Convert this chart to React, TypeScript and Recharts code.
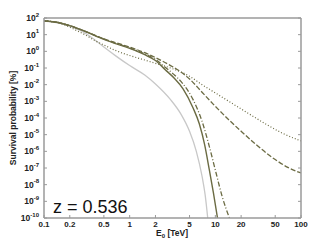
import { LineChart, Line, XAxis, YAxis } from "recharts";

// energy axis (TeV) and survival probability (%)
const xTicks = [0.1, 0.2, 0.5, 1, 2, 5, 10, 20, 50, 100];
const yTicks = [1e-10, 1e-9, 1e-8, 1e-7, 1e-6, 1e-5, 1e-4, 1e-3, 1e-2, 1e-1, 1, 10, 100];

const grayE = [0.1, 0.15, 0.2, 0.3, 0.4, 0.5, 0.7, 1, 1.5, 2, 3, 4, 5, 6, 7, 7.6, 8.15];
const grayP = [66, 50, 32, 12.6, 4.5, 1.8, 0.5, 0.14, 0.038, 0.011, 1.26e-3, 1.6e-4, 1.6e-5, 1e-6, 3.2e-8, 2.5e-9, 1e-10];

const dottedE = [0.1, 0.15, 0.2, 0.25, 0.3, 0.4, 0.5, 0.7, 1, 1.5, 2, 3, 5, 7, 10, 20, 40, 60, 100];
const dottedP = [71, 50, 28, 16, 10, 4.2, 2.4, 1.07, 0.56, 0.3, 0.19, 0.1, 0.032, 0.01, 3.2e-3, 3.5e-4, 4e-5, 1.26e-5, 4.2e-6];

const dashedE = [0.1, 0.15, 0.2, 0.3, 0.5, 0.7, 1, 1.5, 2, 3, 4, 5, 7, 10, 15, 20, 30, 50, 70, 100];
const dashedP = [66, 52, 35, 16, 5.6, 3.2, 1.8, 0.83, 0.42, 0.14, 0.056, 0.022, 3.5e-3, 5e-4, 6.3e-5, 1.6e-5, 2.5e-6, 3.2e-7, 1.1e-7, 5e-8];

const dashDotE = [0.1, 0.15, 0.2, 0.3, 0.5, 0.7, 1, 1.5, 2, 2.6, 3.3, 4.2, 5.5, 7.1, 8.5, 10.2, 12, 14.6];
const dashDotP = [66, 52, 35, 16, 5.5, 2.95, 1.6, 0.71, 0.33, 0.11, 0.04, 0.011, 1.26e-3, 5e-5, 2e-6, 5e-8, 2e-9, 1e-10];

const solidE = [0.1, 0.15, 0.2, 0.3, 0.5, 0.7, 1, 1.5, 2, 2.6, 3.3, 4.2, 5.5, 6.5, 7.5, 8.5, 9.5, 10.6];
const solidP = [66, 52, 35, 16, 5.2, 2.8, 1.5, 0.63, 0.28, 0.079, 0.025, 5.6e-3, 4e-4, 4.5e-5, 2.5e-6, 8e-8, 3.2e-9, 1e-10];

const toRows = (es: number[], ps: number[]) => es.map((e, i) => ({ e, p: ps[i] }));

const olive = "#6b6b43";
const axisColor = "#9a9a9a";
const font = "'Liberation Sans', Arial, sans-serif";

function BottomTick({ x, y, payload }: any) {
  return (
    <g>
      <line x1={x} y1={y} x2={x} y2={y - 3} stroke={axisColor} strokeWidth={1} />
      <text x={x} y={y + 8.5} textAnchor="middle" fontSize={8} fontWeight="bold" fontFamily={font} fill="#222">
        {payload.value}
      </text>
    </g>
  );
}

function TopTick({ x, y }: any) {
  return <line x1={x} y1={y} x2={x} y2={y + 3} stroke={axisColor} strokeWidth={1} />;
}

function LeftTick({ x, y, payload }: any) {
  const exp = Math.round(Math.log10(payload.value));
  return (
    <g>
      <line x1={x} y1={y} x2={x + 3} y2={y} stroke={axisColor} strokeWidth={1} />
      <text x={x - 5} y={y + 3} textAnchor="end" fontWeight="bold" fontFamily={font} fill="#222">
        <tspan fontSize={8.5}>10</tspan>
        <tspan fontSize={6} dy={-4.5}>{exp}</tspan>
      </text>
    </g>
  );
}

function RightTick({ x, y }: any) {
  return <line x1={x} y1={y} x2={x - 3} y2={y} stroke={axisColor} strokeWidth={1} />;
}

export default function App() {
  return (
    <div style={{ position: "absolute", left: 0, top: 0, width: 332, height: 246, background: "#fff" }}>
      <LineChart width={332} height={246} margin={{ top: 0, right: 0, bottom: 0, left: 0 }}>
        <XAxis
          dataKey="e"
          type="number"
          scale="log"
          domain={[0.1, 100]}
          ticks={xTicks}
          interval={0}
          allowDataOverflow
          height={28}
          tickSize={0}
          tickMargin={0}
          tickLine={false}
          tick={<BottomTick />}
          axisLine={{ stroke: axisColor, strokeWidth: 1.5 }}
        />
        <XAxis
          xAxisId="top"
          orientation="top"
          type="number"
          scale="log"
          domain={[0.1, 100]}
          ticks={xTicks}
          interval={0}
          allowDataOverflow
          height={18}
          tickSize={0}
          tickMargin={0}
          tickLine={false}
          tick={<TopTick />}
          axisLine={{ stroke: axisColor, strokeWidth: 1.5 }}
        />
        <YAxis
          type="number"
          scale="log"
          domain={[1e-10, 100]}
          ticks={yTicks}
          interval={0}
          allowDataOverflow
          width={44}
          tickSize={0}
          tickMargin={0}
          tickLine={false}
          tick={<LeftTick />}
          axisLine={{ stroke: axisColor, strokeWidth: 1.5 }}
        />
        <YAxis
          yAxisId="right"
          orientation="right"
          type="number"
          scale="log"
          domain={[1e-10, 100]}
          ticks={yTicks}
          interval={0}
          allowDataOverflow
          width={31}
          tickSize={0}
          tickMargin={0}
          tickLine={false}
          tick={<RightTick />}
          axisLine={{ stroke: axisColor, strokeWidth: 1.5 }}
        />
        <Line data={toRows(grayE, grayP)} dataKey="p" type="monotone" stroke="#c8c8c8" strokeWidth={1.3} dot={false} isAnimationActive={false} />
        <Line data={toRows(dottedE, dottedP)} dataKey="p" type="monotone" stroke={olive} strokeWidth={1.2} strokeDasharray="1 2" dot={false} isAnimationActive={false} />
        <Line data={toRows(dashedE, dashedP)} dataKey="p" type="monotone" stroke={olive} strokeWidth={1.3} strokeDasharray="5 2" dot={false} isAnimationActive={false} />
        <Line data={toRows(dashDotE, dashDotP)} dataKey="p" type="monotone" stroke={olive} strokeWidth={1.3} strokeDasharray="5 2 1 2" dot={false} isAnimationActive={false} />
        <Line data={toRows(solidE, solidP)} dataKey="p" type="monotone" stroke={olive} strokeWidth={1.4} dot={false} isAnimationActive={false} />
      </LineChart>
      <svg width={332} height={246} style={{ position: "absolute", left: 0, top: 0, pointerEvents: "none" }}>
        <text x={16} y={118} transform="rotate(-90 16 118)" textAnchor="middle" fontSize={8.5} fontWeight="bold" fontFamily={font} fill="#222">
          Survival probability [%]
        </text>
        <text x={172} y={236} textAnchor="middle" fontSize={8.5} fontWeight="bold" fontFamily={font} fill="#222">
          E<tspan fontSize={6} dy={2}>0</tspan>
          <tspan dy={-2}> [TeV]</tspan>
        </text>
        <text x={53} y={213} fontSize={18} fontFamily={font} fill="#111">
          z = 0.536
        </text>
      </svg>
    </div>
  );
}
